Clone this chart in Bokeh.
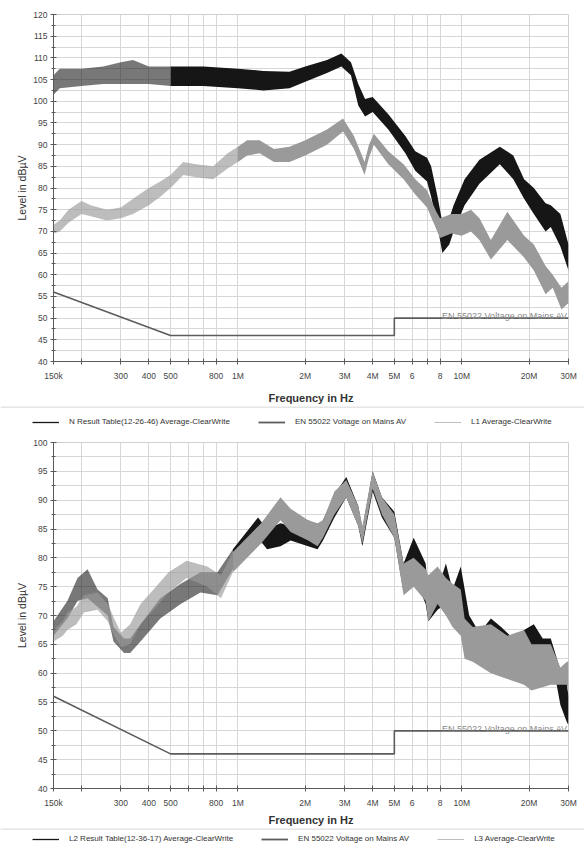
import numpy as np
from bokeh.plotting import figure
from bokeh.models import Range1d, FixedTicker, Label, Legend, LegendItem, Span
from bokeh.layouts import column, row
from bokeh.embed import file_html
from bokeh.resources import INLINE

FONT = "Liberation Sans"

# ---------------- data (frequencies in kHz, levels in dBuV) ----------------
x_tick_khz = [150, 200, 300, 400, 500, 600, 700, 800, 1000, 2000, 3000, 4000,
              5000, 6000, 7000, 8000, 10000, 20000, 30000]
x_tick_labels = ["150k", "", "300", "400", "500", "", "", "800", "1M", "2M", "3M",
                 "4M", "5M", "6", "", "8", "10M", "20M", "30M"]
top_y_ticks = [40, 45, 50, 55, 60, 65, 70, 75, 80, 85, 90, 95, 100, 105, 110, 115, 120]
bot_y_ticks = [40, 45, 50, 55, 60, 65, 70, 75, 80, 85, 90, 95, 100]

limit_name = "EN 55022 Voltage on Mains AV"
limit_khz = [150, 500, 5000, 5000, 30000]
limit_db = [56, 46, 46, 50, 50]

# Top chart: N (black) and L1 (grey), envelope of the noisy traces
top_n_name = "N Result Table(12-26-46) Average-ClearWrite"
top_n_khz = [150, 160, 200, 250, 300, 340, 400, 500, 700, 1000, 1300, 1700, 2000, 2500,
             2900, 3200, 3450, 3700, 4000, 4700, 5600, 6200, 7000, 7300, 7800, 8200,
             8800, 9200, 10300, 12000, 14800, 17000, 19000, 21000, 23700, 25000, 27600, 30000]
top_n_lo = [101.5, 103, 103.5, 104, 104, 104, 104, 103.5, 103.5, 103, 102.5, 103, 104.5,
            106.5, 108, 106, 99, 96.5, 97.5, 93.5, 88, 84, 81.5, 78, 71, 65, 67, 70, 76,
            81, 85.5, 82, 77.5, 74, 70, 71, 66.5, 61]
top_n_hi = [106, 107.5, 107.5, 108, 109, 109.5, 108, 108, 108, 107.5, 107, 106.8, 108,
            109.5, 111, 109, 104, 100.5, 101, 97, 92, 88.5, 87, 85, 78, 72, 73, 76, 82,
            86.5, 89.5, 87.5, 82, 80, 76.5, 76, 74, 67]

top_l1_name = "L1 Average-ClearWrite"
top_l1_khz = [150, 160, 175, 200, 220, 260, 300, 340, 400, 450, 500, 570, 650, 775, 900,
              1000, 1100, 1250, 1450, 1700, 2000, 2500, 2950, 3300, 3550, 3680, 3850, 4050,
              4700, 5500, 6200, 7000, 7700, 8000, 9000, 10000, 11000, 12000, 13500, 16000,
              19000, 21000, 23700, 25500, 27900, 30000]
top_l1_lo = [69.5, 70, 72, 74, 73.5, 72.5, 73, 74, 76, 78, 80, 83, 82.5, 82, 84.5, 86,
             87.5, 88, 86, 86, 87.5, 90, 93, 89, 85, 83, 87, 90, 85.5, 82, 78.5, 75.5,
             70.5, 68.5, 69.5, 69, 70, 68, 63.5, 68, 64, 61, 55.5, 57, 52, 53.5]
top_l1_hi = [71.5, 72.5, 75, 77, 76, 75, 75.5, 77.5, 80, 81.5, 83, 86, 85.5, 85, 88, 89.5,
             91, 91, 89, 89.5, 91, 93.5, 96, 92, 88, 86, 90, 92.5, 88.5, 85.5, 82, 79.5,
             74.5, 73, 74, 74, 75, 73, 68, 74.5, 69, 67, 62, 60, 57, 58.5]

# Bottom chart: L2 (black) and L3 (grey)
bot_l2_name = "L2 Result Table(12-36-17) Average-ClearWrite"
bot_l2_khz = [150, 173, 192, 213, 236, 262, 278, 310, 330, 367, 450, 555, 680, 810, 950,
              1230, 1350, 1550, 1720, 2060, 2270, 2400, 2700, 3050, 3450, 3600, 4000, 4400,
              5000, 5500, 6100, 6900, 7100, 7800, 8500, 9100, 9900, 10800, 12000, 13500,
              15000, 17000, 19000, 21000, 23000, 25000, 27600, 29500, 30000]
bot_l2_lo = [66.5, 69.5, 72.5, 73, 71.5, 70, 65.5, 63.5, 63.5, 65.5, 69.5, 72, 74, 73.5,
             78, 83.5, 81.5, 82, 83, 82, 81.5, 83, 87, 90.5, 85.5, 82, 91.5, 87, 83.5, 74,
             77, 72, 69, 71, 72, 69.5, 67, 64, 63, 64, 63, 62.5, 64.5, 63, 62, 63.5, 54.5,
             51.5, 51]
bot_l2_hi = [69, 72.5, 76.5, 78, 74.5, 73, 68, 66, 66, 68.5, 73, 75.5, 77.5, 77.5, 81.5,
             87, 85, 86, 85.5, 86.5, 85.5, 86.5, 91, 94, 89, 85, 95, 90.5, 88, 79, 83.5,
             79, 74, 74.5, 79, 74.5, 78.5, 70, 67, 69.5, 68, 66, 67.5, 68.5, 66, 66, 60.5,
             58, 56]

bot_l3_name = "L3 Average-ClearWrite"
bot_l3_khz = [150, 165, 173, 190, 205, 236, 262, 280, 300, 330, 367, 420, 490, 590, 730,
              840, 950, 1270, 1550, 1720, 2060, 2270, 2400, 2700, 3050, 3450, 3600, 4000,
              4400, 5000, 5500, 6100, 6900, 7100, 7800, 8500, 9100, 9900, 10300, 11200,
              13500, 16000, 19000, 20500, 25000, 27600, 29500, 30000]
bot_l3_lo = [65.5, 66.5, 67.5, 68.5, 70.5, 71, 69, 66.5, 64.5, 65, 68.5, 71, 74, 76.5, 75,
             73, 77.5, 82.5, 86.5, 84.5, 83, 82, 83.5, 87.5, 90.5, 85.5, 82.5, 92, 87.5,
             83.5, 73.5, 75, 72.5, 69, 72, 70, 68, 66.5, 62.5, 62, 60, 59, 58, 57, 58, 58,
             58, 57]
bot_l3_hi = [67.5, 69, 70.5, 71.5, 73.5, 74, 72, 69.5, 67, 68.5, 72, 74.5, 77.5, 79.5,
             78.5, 77, 81, 86, 90.5, 88.5, 86.5, 86, 86.5, 91.5, 93.5, 89, 85.5, 95, 90.5,
             87.5, 79, 80, 78, 77, 78.5, 76.5, 75.5, 74.5, 69.5, 68, 68.5, 66.5, 67.5, 65,
             65, 61, 62, 62]

# ---------------- styles ----------------
BLACK = "#161616"
GREY = "#9a9a9a"
LIMIT = "#5c5c5c"
GRID = "#d7d7d7"
AXIS = "#5a5a5a"
SPARSE_ALPHA_BLACK = 0.58
SPARSE_ALPHA_GREY = 0.65


def band(p, khz, lo, hi, color, split_khz, sparse_alpha):
    f = np.asarray(khz, dtype=float)
    lo = np.asarray(lo, dtype=float)
    hi = np.asarray(hi, dtype=float)
    m1 = f <= split_khz
    m2 = f >= split_khz
    p.varea(x=f[m1] * 1e3, y1=lo[m1], y2=hi[m1], fill_color=color, fill_alpha=sparse_alpha)
    p.varea(x=f[m2] * 1e3, y1=lo[m2], y2=hi[m2], fill_color=color, fill_alpha=1.0)


def make_plot(height, y_ticks, border_top, border_bottom, xlabel_standoff):
    p = figure(width=584, height=height, x_axis_type="log",
               x_range=Range1d(150e3, 30e6), y_range=Range1d(y_ticks[0], y_ticks[-1]),
               output_backend="svg", toolbar_location=None,
               min_border_left=53, min_border_right=16,
               min_border_top=border_top, min_border_bottom=border_bottom,
               outline_line_color="#cfcfcf", background_fill_color="white",
               border_fill_color="white")
    xt = FixedTicker(ticks=[k * 1000 for k in x_tick_khz], minor_ticks=[])
    p.xaxis.ticker = xt
    p.xgrid.ticker = xt
    p.xaxis.major_label_overrides = {k * 1000: lab for k, lab in zip(x_tick_khz, x_tick_labels)}
    yt = FixedTicker(ticks=y_ticks, minor_ticks=[t + 2.5 for t in y_ticks[:-1]])
    p.yaxis.ticker = yt
    p.ygrid.ticker = yt
    p.xgrid.grid_line_color = GRID
    p.ygrid.grid_line_color = GRID
    p.ygrid.minor_grid_line_color = GRID
    for ax in (p.xaxis[0], p.yaxis[0]):
        ax.axis_line_color = AXIS
        ax.major_tick_line_color = AXIS
        ax.minor_tick_line_color = AXIS
        ax.major_tick_in = 3
        ax.major_tick_out = 3
        ax.minor_tick_in = 2
        ax.minor_tick_out = 2
        ax.major_label_text_font = FONT
        ax.major_label_text_font_size = "8.5px"
        ax.major_label_text_color = "#444444"
        ax.axis_label_text_font = FONT
        ax.axis_label_text_color = "#333333"
    p.xaxis.axis_label = "Frequency in Hz"
    p.xaxis.axis_label_text_font_style = "bold"
    p.xaxis.axis_label_text_font_size = "11px"
    p.xaxis.major_label_standoff = 6
    p.xaxis.axis_label_standoff = xlabel_standoff
    p.yaxis.axis_label = "Level in dBµV"
    p.yaxis.axis_label_text_font_style = "normal"
    p.yaxis.axis_label_text_font_size = "10.5px"
    p.yaxis.major_label_standoff = 3
    p.yaxis.axis_label_standoff = 2
    return p


def add_limit(p):
    p.line(x=[k * 1000 for k in limit_khz], y=limit_db, line_color=LIMIT, line_width=1.6)
    p.add_layout(Label(x=limit_khz[-1] * 1000, y=limit_db[-1], text=limit_name,
                       text_align="right", text_baseline="alphabetic",
                       x_offset=-1, y_offset=2, text_font=FONT, text_font_size="9px",
                       text_color="#8a8a8a"))


def make_legend(height, names, loc_y):
    lf = figure(width=584, height=height, x_range=Range1d(0, 1), y_range=Range1d(0, height),
                output_backend="svg", toolbar_location=None, min_border=0,
                x_axis_location=None, y_axis_location=None, outline_line_color=None,
                background_fill_color="white", border_fill_color="white")
    lf.grid.visible = False
    lf.add_layout(Span(location=height - 0.5, dimension="width",
                       line_color="#cccccc", line_width=1))
    styles = [(BLACK, 1.3), (LIMIT, 1.8), ("#bdbdbd", 1.0)]
    items = []
    for name, (col, w) in zip(names, styles):
        r = lf.line(x=[np.nan, np.nan], y=[np.nan, np.nan], line_color=col, line_width=w)
        items.append(LegendItem(label=name, renderers=[r]))
    leg = Legend(items=items, orientation="horizontal", location=(32, loc_y),
                 border_line_color=None, background_fill_alpha=0,
                 label_text_font=FONT, label_text_font_size="8px",
                 label_text_color="#333333", glyph_width=27, glyph_height=8,
                 label_height=8, label_standoff=10, spacing=28, padding=0, margin=0)
    lf.add_layout(leg)
    return lf


# ---------------- top chart ----------------
top = make_plot(406, top_y_ticks, 14, 42, 8)
add_limit(top)
band(top, top_n_khz, top_n_lo, top_n_hi, BLACK, 500, SPARSE_ALPHA_BLACK)
band(top, top_l1_khz, top_l1_lo, top_l1_hi, GREY, 1000, SPARSE_ALPHA_GREY)
leg_top = make_legend(30, [top_n_name, limit_name, top_l1_name], 10)

# ---------------- bottom chart ----------------
bot = make_plot(392, bot_y_ticks, 6, 37, 3)
add_limit(bot)
band(bot, bot_l2_khz, bot_l2_lo, bot_l2_hi, BLACK, 950, SPARSE_ALPHA_BLACK)
band(bot, bot_l3_khz, bot_l3_lo, bot_l3_hi, GREY, 950, SPARSE_ALPHA_GREY)
leg_bot = make_legend(20, [bot_l2_name, limit_name, bot_l3_name], 5)

# legend strips wrapped in their own rows so their frames are not aligned with the charts
layout = column(top, row(leg_top), bot, row(leg_bot), spacing=0)
open("out.html", "w").write(file_html(layout, INLINE))
